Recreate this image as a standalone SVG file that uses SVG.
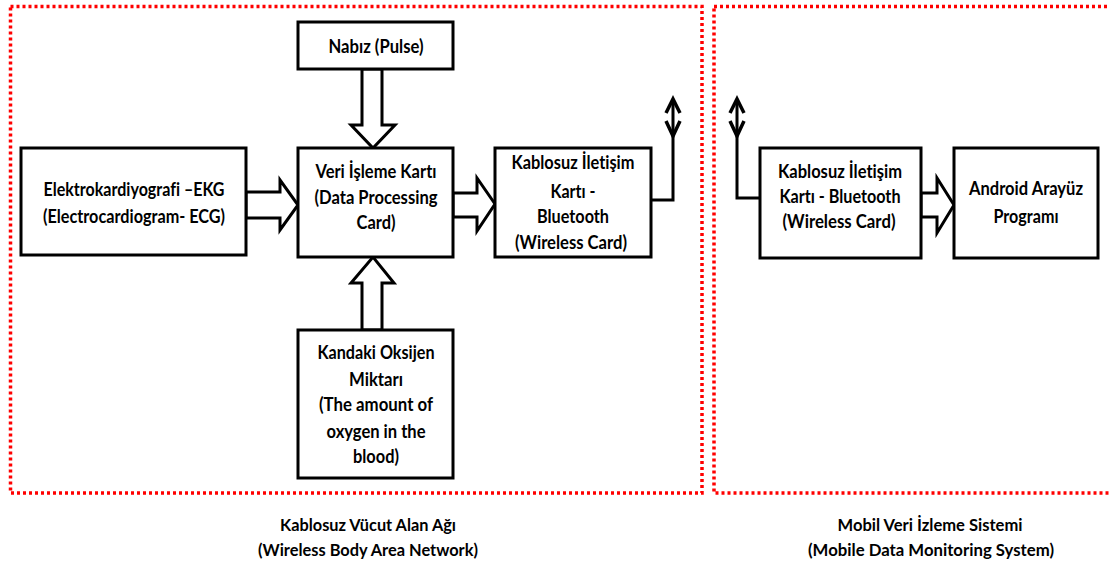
<svg xmlns="http://www.w3.org/2000/svg" width="1110" height="567" viewBox="0 0 1110 567">
<style>
.zone{fill:none;stroke:#ff0000;stroke-width:3.5;stroke-dasharray:3 3}
.box{fill:#fff;stroke:#000;stroke-width:3}
.arr{fill:#fff;stroke:#000;stroke-width:3;stroke-linejoin:miter}
.ln{fill:none;stroke:#000;stroke-width:3}
.hd{fill:none;stroke:#000;stroke-width:3.5;stroke-linejoin:miter}
text{font-family:Lato,"Liberation Sans",sans-serif;font-weight:bold;font-size:18px;fill:#000;text-anchor:middle;font-variant-ligatures:none}
.lab{font-size:17px}
</style>
<rect width="1110" height="567" fill="#fff"/>
<g id="zone-wban"><rect class="zone" x="10.5" y="6.5" width="691.5" height="486.5"/></g>
<g id="zone-mobile"><rect class="zone" x="714" y="6.5" width="410" height="486.5"/></g>
<g id="connectors">
<polygon class="arr" points="246,192 280,192 280,180 298,205 280,230 280,218 246,218"/>
<polygon class="arr" points="453,193 477,193 477,178 495,204 477,231 477,217 453,217"/>
<polygon class="arr" points="362,69 382,69 382,125 395,125 373,148 351,125 362,125"/>
<polygon class="arr" points="362,330 382,330 382,283 394,283 373,257 351,283 362,283"/>
<polygon class="arr" points="921,193 937,193 937,178 954,205 937,233 937,217 921,217"/>
<polyline class="ln" points="651,200 673,200 673,99"/>
<polyline class="hd" points="666,113 673,99 680,113"/>
<polyline class="hd" points="666,121 673,136 680,121"/>
<polyline class="ln" points="760,198 737,198 737,99"/>
<polyline class="hd" points="730,113 737,99 744,113"/>
<polyline class="hd" points="730,121 737,136 744,121"/>
</g>
<g id="nabiz">
<rect class="box" x="298" y="22" width="155" height="47"/>
<text x="376" y="53" textLength="95" lengthAdjust="spacingAndGlyphs">Nabız (Pulse)</text>
</g>
<g id="ekg">
<rect class="box" x="21" y="148" width="225" height="107"/>
<text x="134" y="196" textLength="181" lengthAdjust="spacingAndGlyphs">Elektrokardiyografi –EKG</text>
<text x="134" y="223" textLength="182" lengthAdjust="spacingAndGlyphs">(Electrocardiogram- ECG)</text>
</g>
<g id="veri">
<rect class="box" x="298" y="148" width="155" height="109"/>
<text x="376" y="178" textLength="121" lengthAdjust="spacingAndGlyphs">Veri İşleme Kartı</text>
<text x="376" y="204" textLength="123" lengthAdjust="spacingAndGlyphs">(Data Processing</text>
<text x="376" y="229" textLength="39" lengthAdjust="spacingAndGlyphs">Card)</text>
</g>
<g id="kablosuz-left">
<rect class="box" x="495" y="148" width="156" height="109"/>
<text x="573" y="169" textLength="123" lengthAdjust="spacingAndGlyphs">Kablosuz İletişim</text>
<text x="573" y="198" textLength="45" lengthAdjust="spacingAndGlyphs">Kartı -</text>
<text x="573" y="223" textLength="72" lengthAdjust="spacingAndGlyphs">Bluetooth</text>
<text x="571" y="249" textLength="112" lengthAdjust="spacingAndGlyphs">(Wireless Card)</text>
</g>
<g id="oksijen">
<rect class="box" x="298" y="330" width="155" height="148"/>
<text x="376" y="359" textLength="117" lengthAdjust="spacingAndGlyphs">Kandaki Oksijen</text>
<text x="376" y="386" textLength="54" lengthAdjust="spacingAndGlyphs">Miktarı</text>
<text x="376" y="411" textLength="114" lengthAdjust="spacingAndGlyphs">(The amount of</text>
<text x="376" y="438" textLength="99" lengthAdjust="spacingAndGlyphs">oxygen in the</text>
<text x="376" y="463" textLength="46" lengthAdjust="spacingAndGlyphs">blood)</text>
</g>
<g id="kablosuz-right">
<rect class="box" x="760" y="148" width="161" height="110"/>
<text x="840" y="178" textLength="124" lengthAdjust="spacingAndGlyphs">Kablosuz İletişim</text>
<text x="840" y="203" textLength="121" lengthAdjust="spacingAndGlyphs">Kartı - Bluetooth</text>
<text x="839" y="228" textLength="113" lengthAdjust="spacingAndGlyphs">(Wireless Card)</text>
</g>
<g id="android">
<rect class="box" x="954" y="148" width="144" height="110"/>
<text x="1026" y="195" textLength="114" lengthAdjust="spacingAndGlyphs">Android Arayüz</text>
<text x="1026" y="223" textLength="65" lengthAdjust="spacingAndGlyphs">Programı</text>
</g>
<g id="label-wban">
<text class="lab" x="368" y="531" textLength="176" lengthAdjust="spacingAndGlyphs">Kablosuz Vücut Alan Ağı</text>
<text class="lab" x="368" y="556" textLength="220" lengthAdjust="spacingAndGlyphs">(Wireless Body Area Network)</text>
</g>
<g id="label-mobile">
<text class="lab" x="930" y="531" textLength="185" lengthAdjust="spacingAndGlyphs">Mobil Veri İzleme Sistemi</text>
<text class="lab" x="931" y="556" textLength="246" lengthAdjust="spacingAndGlyphs">(Mobile Data Monitoring System)</text>
</g>
</svg>
